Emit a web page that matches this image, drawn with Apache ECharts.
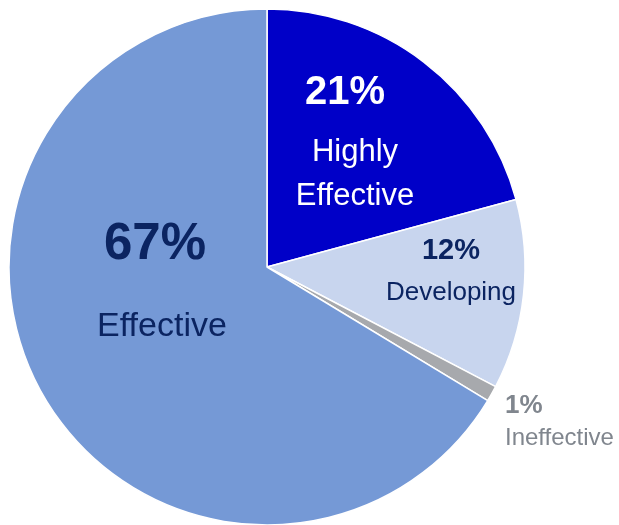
<!DOCTYPE html>
<html>
<head>
<meta charset="utf-8">
<script src="https://cdn.jsdelivr.net/npm/echarts@6/dist/echarts.min.js"></script>
<style>
  html, body { margin: 0; padding: 0; background: #ffffff; }
  #chart { width: 619px; height: 525px; }
</style>
</head>
<body>
<div id="chart"></div>
<script>
// Rating distribution (percent of staff)
const categories = ['Highly Effective', 'Developing', 'Ineffective', 'Effective'];
const labelLines = [['Highly', 'Effective'], ['Developing'], ['Ineffective'], ['Effective']];
const percents = [21, 12, 1, 67];

const sliceColors = ['#0000C8', '#C8D5EE', '#A7A9AD', '#7599D6'];
const navy = '#0B2461';

// Per-slice label styling and placement
const labelStyles = [
  { x: 355, y: 137, align: 'center', pSize: 40, pLH: 74, nSize: 31, nLH: 44, color: '#ffffff', pPad: [0, 20, 0, 0] },
  { x: 451, y: 266, align: 'center', pSize: 29, pLH: 54, nSize: 26, nLH: 30, color: navy, pPad: [0, 0, 0, 0] },
  { x: 505, y: 420, align: 'left', pSize: 26, pLH: 36, nSize: 24, nLH: 28, color: '#80868E', pPad: [0, 0, 0, 0] },
  { x: 162, y: 265, align: 'center', pSize: 51, pLH: 124, nSize: 34, nLH: 40, color: navy, pPad: [0, 14, 0, 0] }
];

const data = categories.map((name, i) => {
  const s = labelStyles[i];
  return {
    name: name,
    value: percents[i],
    itemStyle: { color: sliceColors[i] },
    label: {
      show: true,
      position: 'inside',
      formatter: '{p|' + percents[i] + '%}\n' + labelLines[i].map(t => '{n|' + t + '}').join('\n'),
      align: s.align,
      rich: {
        p: { fontFamily: 'Liberation Sans', fontWeight: 'bold', fontSize: s.pSize, lineHeight: s.pLH, color: s.color, padding: s.pPad, align: s.align },
        n: { fontFamily: 'Liberation Sans', fontSize: s.nSize, lineHeight: s.nLH, color: s.color, align: s.align }
      }
    }
  };
});

const chart = echarts.init(document.getElementById('chart'), null, { renderer: 'canvas' });
chart.setOption({
  animation: false,
  backgroundColor: '#ffffff',
  series: [{
    type: 'pie',
    center: [267, 267],
    radius: [0, 258],
    startAngle: 90,
    clockwise: true,
    avoidLabelOverlap: false,
    labelLine: { show: false },
    itemStyle: { borderColor: '#ffffff', borderWidth: 1.5 },
    emphasis: { disabled: true },
    data: data,
    labelLayout: function (params) {
      const s = labelStyles[params.dataIndex];
      return { x: s.x, y: s.y, align: s.align, verticalAlign: 'middle' };
    }
  }]
});
</script>
</body>
</html>
